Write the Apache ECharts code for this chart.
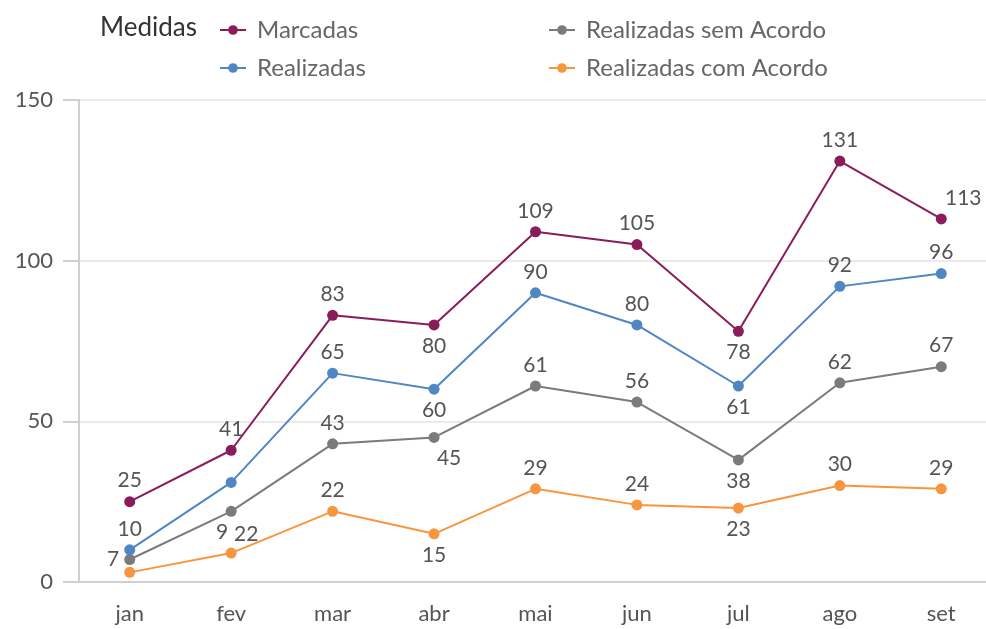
<!DOCTYPE html>
<html><head><meta charset="utf-8">
<script src="https://cdn.jsdelivr.net/npm/echarts@6/dist/echarts.min.js"></script>
<style>html,body{margin:0;padding:0;background:#fff;overflow:hidden;width:986px;height:629px}#c{width:1000px;height:629px}</style>
</head><body><div id="c"></div>
<script>
var categories = ['jan','fev','mar','abr','mai','jun','jul','ago','set'];
var seriesNames = ['Marcadas','Realizadas','Realizadas sem Acordo','Realizadas com Acordo'];
var marcadas = [25,41,83,80,109,105,78,131,113];
var realizadas = [10,31,65,60,90,80,61,92,96];
var semAcordo = [7,22,43,45,61,56,38,62,67];
var comAcordo = [3,9,22,15,29,24,23,30,29];
var yTicks = [0,50,100,150];
var legendTitle = 'Medidas';

// label placement per point: [position, dx, dy]
var posMarcadas = [['top',0,0],['top',0,0],['top',0,0],['bottom',0,0],['top',0,0],['top',0,0],['bottom',0,0],['top',0,0],['top',22,0]];
var posRealizadas = [['top',0,0],null,['top',0,0],['bottom',0,0],['top',0,0],['top',0,0],['bottom',0,0],['top',0,0],['top',0,0]];
var posSem = [['left',0,0],['bottom',15,2],['top',0,0],['bottom',15,0],['top',0,0],['top',0,0],['bottom',0,0],['top',0,0],['top',0,0]];
var posCom = [null,['top',-9,0],['top',0,0],['bottom',0,0],['top',0,0],['top',0,0],['bottom',0,0],['top',0,0],['top',0,0]];

var font = 'Lato';
var colors = ['#8b1c5b','#4f86c4','#7b7b7b','#f7963f'];
function mk(vals, pos){
  return vals.map(function(v,i){
    var p = pos[i];
    if(!p) return {value:v, label:{show:false}};
    return {value:v, label:{show:true, position:p[0], offset:[p[1],p[2]], fontFamily:font, fontSize:21, color:'#555', distance:5}};
  });
}
var datas = [mk(marcadas,posMarcadas), mk(realizadas,posRealizadas), mk(semAcordo,posSem), mk(comAcordo,posCom)];
var series = seriesNames.map(function(n,k){
  return {name:n, type:'line', data:datas[k], symbol:'circle', symbolSize:11,
    lineStyle:{width:2, color:colors[k]}, itemStyle:{color:colors[k]},
    label:{show:true, fontFamily:font, fontSize:21, color:'#555', distance:5},
    z: 10-k};
});
var chart = echarts.init(document.getElementById('c'), null, {renderer:'canvas'});
chart.setOption({
  animation:false,
  color:colors,
  title:{text:legendTitle, left:95, top:10, textStyle:{fontFamily:font, fontSize:26, fontWeight:'normal', color:'#333'}},
  legend:[
    {data:[seriesNames[0],seriesNames[1]], orient:'vertical', left:214, top:13, itemWidth:26, itemHeight:12, itemGap:14,
     textStyle:{fontFamily:font, fontSize:24, color:'#666', padding:[0,0,0,6]}},
    {data:[seriesNames[2],seriesNames[3]], orient:'vertical', left:543, top:13, itemWidth:26, itemHeight:12, itemGap:14,
     textStyle:{fontFamily:font, fontSize:24, color:'#666', padding:[0,0,0,6]}}
  ],
  grid:{left:79, top:100, width:913, height:482, containLabel:false},
  xAxis:{type:'category', data:categories, boundaryGap:true,
    axisLine:{show:true, lineStyle:{color:'#cfcfcf', width:2}}, axisTick:{show:false},
    axisLabel:{fontFamily:font, fontSize:22, color:'#555', margin:21}},
  yAxis:{type:'value', min:yTicks[0], max:yTicks[yTicks.length-1], interval:50,
    axisLine:{show:true, lineStyle:{color:'#cfcfcf', width:2}},
    axisTick:{show:true, length:16, lineStyle:{color:'#cfcfcf', width:2}},
    splitLine:{lineStyle:{color:'#e3e3e3', width:1.5}},
    axisLabel:{fontFamily:font, fontSize:22, color:'#555', margin:26}},
  series:series
});
</script></body></html>
